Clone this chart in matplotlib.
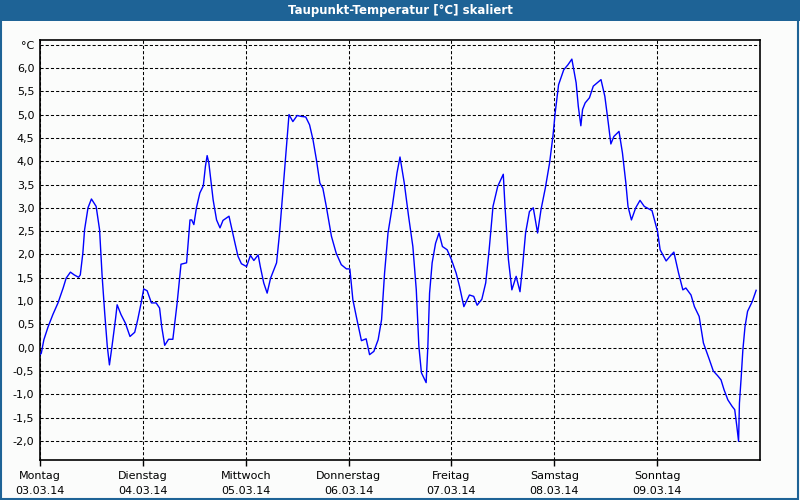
import matplotlib.pyplot as plt
import matplotlib.patches as patches

# hours since Mon 03.03.14 00:00, dew point in degC
hours = [
    0.0, 0.3, 0.9, 1.9, 3.0, 4.2, 5.4, 6.1, 7.1, 8.0, 9.0, 9.4, 10.0, 10.4,
    11.2, 12.0, 13.1, 13.9, 14.5, 15.1, 15.7, 16.2, 16.8, 17.6, 18.0, 18.9,
    19.9, 21.0, 22.1, 22.8, 23.6, 24.2, 25.0, 26.0, 27.1, 27.9, 28.4, 29.1,
    30.0, 31.0, 32.0, 32.9, 34.2, 35.0, 35.4, 35.9, 36.5, 37.3, 38.1, 38.6,
    39.0, 39.4, 40.4, 41.2, 42.0, 42.7, 44.1, 44.7, 45.5, 46.2, 47.0, 48.2,
    49.1, 49.9, 50.9, 51.4, 52.2, 53.0, 53.8, 55.2, 55.9, 56.7, 57.3, 58.1,
    59.0, 60.0, 61.0, 62.0, 62.9, 63.7, 64.5, 65.3, 66.0, 66.8, 68.0, 69.1,
    70.3, 71.5, 72.3, 73.0, 73.8, 75.0, 76.1, 76.9, 77.9, 78.9, 79.7, 80.4,
    81.2, 82.2, 83.3, 84.0, 85.0, 86.0, 87.0, 87.8, 88.4, 89.0, 90.1, 90.5,
    90.9, 91.5, 92.3, 93.1, 93.9, 95.0, 96.0, 97.1, 97.9, 98.9, 100.2, 101.2,
    102.0, 103.1, 104.0, 104.8, 105.7, 106.8, 108.1, 108.5, 109.3, 110.1,
    111.1, 112.0, 112.6, 113.3, 114.2, 115.1, 116.1, 116.9, 117.9, 118.9,
    119.7, 120.2, 121.0, 122.2, 123.2, 124.1, 125.1, 125.6, 126.2, 126.6,
    127.2, 128.2, 129.1, 130.9, 131.8, 132.6, 133.2, 133.9, 135.1, 135.9,
    136.7, 137.2, 138.0, 139.0, 140.0, 141.0, 142.8, 144.1, 144.7, 146.1,
    147.0, 147.9, 149.0, 150.0, 150.7, 151.9, 152.7, 153.8, 154.8, 156.2,
    157.1, 158.1, 158.9, 159.6, 160.5, 161.5, 162.1, 162.6, 163.0, 163.2,
    163.6, 164.0, 164.5, 165.1, 166.2, 167.1,
]
dewpoint = [
    -0.15, -0.12, 0.17, 0.45, 0.71, 0.96, 1.28, 1.49, 1.62, 1.56, 1.51, 1.56,
    2.03, 2.53, 3.0, 3.19, 3.03, 2.53, 1.53, 0.74, 0.03, -0.37, 0.03, 0.6,
    0.92, 0.71, 0.53, 0.24, 0.33, 0.6, 0.96, 1.26, 1.22, 0.96, 0.96, 0.85,
    0.45, 0.05, 0.18, 0.18, 0.96, 1.79, 1.82, 2.74, 2.74, 2.64, 3.0, 3.32,
    3.47, 3.89, 4.12, 3.96, 3.17, 2.74, 2.57, 2.73, 2.82, 2.57, 2.24, 1.96,
    1.8, 1.74, 1.98, 1.87, 1.99, 1.74, 1.39, 1.17, 1.49, 1.82, 2.46, 3.39,
    4.1, 5.0, 4.85, 4.98, 4.96, 4.95, 4.78, 4.46, 4.03, 3.53, 3.42, 3.03,
    2.39, 2.03, 1.78, 1.69, 1.69, 1.03, 0.67, 0.15, 0.19, -0.15, -0.08, 0.17,
    0.6, 1.6, 2.46, 3.03, 3.75, 4.09, 3.53, 2.82, 2.17, 1.24, 0.03, -0.54,
    -0.75, 0.03, 1.17, 1.82, 2.24, 2.46, 2.17, 2.1, 1.89, 1.6, 1.31, 0.88,
    1.13, 1.1, 0.91, 1.04, 1.39, 2.1, 3.03, 3.46, 3.72, 3.03, 1.89, 1.24,
    1.53, 1.2, 1.74, 2.46, 2.92, 3.0, 2.46, 2.96, 3.42, 3.96, 4.55, 5.03,
    5.64, 5.96, 6.07, 6.19, 5.68, 5.18, 4.76, 5.11, 5.25, 5.36, 5.61, 5.75,
    5.39, 4.82, 4.37, 4.53, 4.64, 4.18, 3.53, 3.03, 2.74, 3.0, 3.16, 3.03,
    2.94, 2.49, 2.1, 1.86, 1.96, 2.05, 1.6, 1.24, 1.28, 1.13, 0.88, 0.67,
    0.1, -0.26, -0.5, -0.6, -0.69, -0.9, -1.12, -1.26, -1.33, -1.69, -2.01,
    -1.19, -0.65, -0.05, 0.45, 0.78, 0.99, 1.23,
]

day_names = ['Montag', 'Dienstag', 'Mittwoch', 'Donnerstag', 'Freitag', 'Samstag', 'Sonntag']
day_dates = ['03.03.14', '04.03.14', '05.03.14', '06.03.14', '07.03.14', '08.03.14', '09.03.14']
y_ticks = [-2.0, -1.5, -1.0, -0.5, 0.0, 0.5, 1.0, 1.5, 2.0, 2.5, 3.0, 3.5, 4.0, 4.5, 5.0, 5.5, 6.0, 6.5]
title = 'Taupunkt-Temperatur [°C] skaliert'

bg = '#fbfcfb'
bar_blue = '#1e6396'

fig = plt.figure(figsize=(8, 5), dpi=100, facecolor=bg)

# title bar and frame
fig.patches.append(patches.Rectangle((0, 1 - 21 / 500), 1, 21 / 500, transform=fig.transFigure,
                                     facecolor=bar_blue, edgecolor='none', zorder=0))
fig.patches.append(patches.Rectangle((0.001, 0.002), 0.997, 0.996, transform=fig.transFigure,
                                     facecolor='none', edgecolor=bar_blue, linewidth=1.5, zorder=1))
fig.text(0.5, 1 - 10.5 / 500, title, color='white', fontsize=8.5, fontweight='bold',
         ha='center', va='center')

ax = fig.add_axes([40 / 800, 40 / 500, 720 / 800, 420 / 500])
ax.set_facecolor(bg)
ax.plot(hours, dewpoint, color='#0000ff', linewidth=1.0, zorder=3)

ax.set_xlim(0, 168)
ax.set_ylim(-2.41, 6.6)

ax.set_yticks(y_ticks)
ax.set_yticklabels([f'{v:.1f}'.replace('.', ',') for v in y_ticks[:-1]] + ['°C'])
ax.set_xticks([24 * i for i in range(7)])
ax.set_xticklabels([f'{n}\n{d}' for n, d in zip(day_names, day_dates)], linespacing=1.6)

ax.tick_params(axis='y', length=0, pad=4, labelsize=8)
ax.tick_params(axis='x', length=4, width=1, direction='out', pad=4, labelsize=8)

ax.grid(True, color='black', linestyle=(0, (3, 2)), linewidth=0.75, zorder=1)
for s in ax.spines.values():
    s.set_color('black')
    s.set_linewidth(1.2)

fig.savefig('out.png', dpi=100, facecolor=bg)
